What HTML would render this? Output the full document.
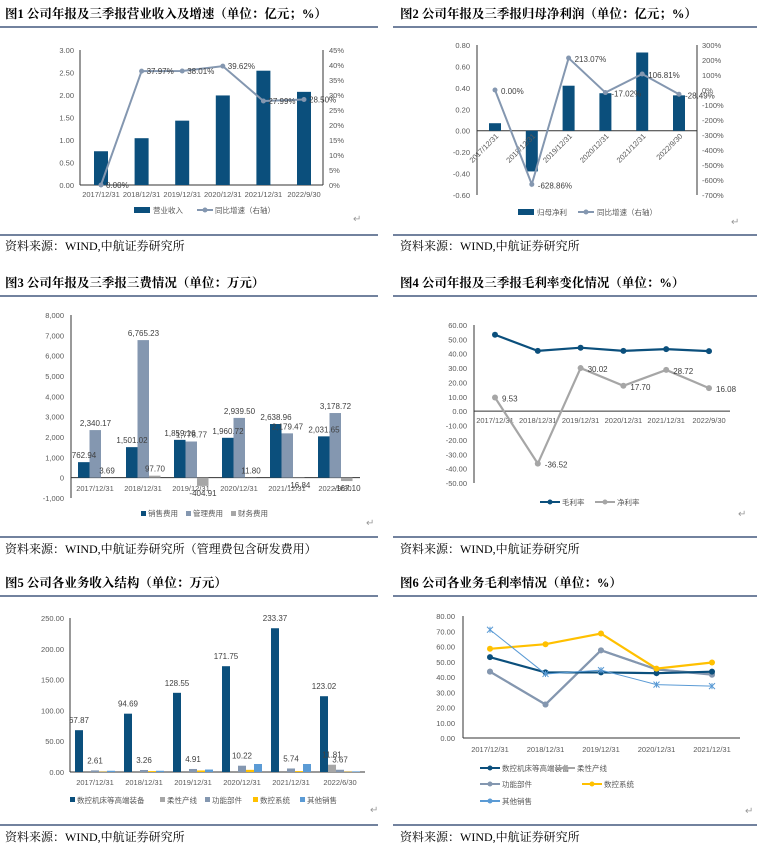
<!DOCTYPE html>
<html><head><meta charset="utf-8"><style>
body{margin:0;background:#fff}
svg{display:block}
.t{font:bold 12.5px "Liberation Serif","Noto Serif CJK SC",serif;fill:#000}
.s{font:12px "Liberation Serif","Noto Serif CJK SC",serif;fill:#000}
.ax{font:7.5px "Liberation Sans","Noto Sans CJK SC",sans-serif;fill:#595959}
.lb{font:8px "Liberation Sans","Noto Sans CJK SC",sans-serif;fill:#404040}
.mk{font:10px "Liberation Sans",sans-serif;fill:#999}
</style></head><body>
<svg id="root" width="757" height="847" viewBox="0 0 757 847" xmlns="http://www.w3.org/2000/svg">
<g>
<text class="t" x="5" y="18">图1  公司年报及三季报营业收入及增速（单位：亿元；%）</text>
<text class="t" x="400" y="18">图2  公司年报及三季报归母净利润（单位：亿元；%）</text>
<text class="t" x="5" y="287">图3  公司年报及三季报三费情况（单位：万元）</text>
<text class="t" x="400" y="287">图4  公司年报及三季报毛利率变化情况（单位：%）</text>
<text class="t" x="5" y="587">图5  公司各业务收入结构（单位：万元）</text>
<text class="t" x="400" y="587">图6  公司各业务毛利率情况（单位：%）</text>
<line x1="0" y1="27" x2="378" y2="27" stroke="#1f3864" stroke-width="1.2"/>
<line x1="393" y1="27" x2="757" y2="27" stroke="#1f3864" stroke-width="1.2"/>
<line x1="0" y1="235" x2="378" y2="235" stroke="#1f3864" stroke-width="1.2"/>
<line x1="393" y1="235" x2="757" y2="235" stroke="#1f3864" stroke-width="1.2"/>
<line x1="0" y1="296" x2="378" y2="296" stroke="#1f3864" stroke-width="1.2"/>
<line x1="393" y1="296" x2="757" y2="296" stroke="#1f3864" stroke-width="1.2"/>
<line x1="0" y1="537" x2="378" y2="537" stroke="#1f3864" stroke-width="1.2"/>
<line x1="393" y1="537" x2="757" y2="537" stroke="#1f3864" stroke-width="1.2"/>
<line x1="0" y1="596" x2="378" y2="596" stroke="#1f3864" stroke-width="1.2"/>
<line x1="393" y1="596" x2="757" y2="596" stroke="#1f3864" stroke-width="1.2"/>
<line x1="0" y1="825" x2="378" y2="825" stroke="#1f3864" stroke-width="1.2"/>
<line x1="393" y1="825" x2="757" y2="825" stroke="#1f3864" stroke-width="1.2"/>
<text class="s" x="5" y="250">资料来源：WIND,中航证券研究所</text>
<text class="s" x="400" y="250">资料来源：WIND,中航证券研究所</text>
<text class="s" x="5" y="553">资料来源：WIND,中航证券研究所（管理费包含研发费用）</text>
<text class="s" x="400" y="553">资料来源：WIND,中航证券研究所</text>
<text class="s" x="5" y="841">资料来源：WIND,中航证券研究所</text>
<text class="s" x="400" y="841">资料来源：WIND,中航证券研究所</text>
</g>
</svg>
<script>
// ---------- data ----------
const c1Cats=["2017/12/31","2018/12/31","2019/12/31","2020/12/31","2021/12/31","2022/9/30"];
const c1Rev=[0.75,1.04,1.43,1.99,2.54,2.07];
const c1Growth=[0,37.97,38.01,39.62,27.99,28.50];
const c1LeftTicks=["0.00","0.50","1.00","1.50","2.00","2.50","3.00"];
const c1RightTicks=["0%","5%","10%","15%","20%","25%","30%","35%","40%","45%"];

const c2Cats=["2017/12/31","2018/12/31","2019/12/31","2020/12/31","2021/12/31","2022/9/30"];
const c2Profit=[0.07,-0.38,0.42,0.35,0.73,0.33];
const c2Growth=[0,-628.86,213.07,-17.02,106.81,-28.49];
const c2LeftTicks=["-0.60","-0.40","-0.20","0.00","0.20","0.40","0.60","0.80"];
const c2RightTicks=["-700%","-600%","-500%","-400%","-300%","-200%","-100%","0%","100%","200%","300%"];

const c3Cats=["2017/12/31","2018/12/31","2019/12/31","2020/12/31","2021/12/31","2022/9/30"];
const c3Sales=[762.94,1501.02,1859.16,1960.72,2638.96,2031.65];
const c3Mgmt=[2340.17,6765.23,1778.77,2939.50,2179.47,3178.72];
const c3Fin=[3.69,97.70,-404.91,11.80,-16.84,-167.10];
const c3Ticks=["-1,000","0","1,000","2,000","3,000","4,000","5,000","6,000","7,000","8,000"];

const c4Cats=["2017/12/31","2018/12/31","2019/12/31","2020/12/31","2021/12/31","2022/9/30"];
const c4Gross=[53.2,42.0,44.2,42.0,43.2,41.8];
const c4Net=[9.53,-36.52,30.02,17.70,28.72,16.08];
const c4Ticks=["-50.00","-40.00","-30.00","-20.00","-10.00","0.00","10.00","20.00","30.00","40.00","50.00","60.00"];

const c5Cats=["2017/12/31","2018/12/31","2019/12/31","2020/12/31","2021/12/31","2022/6/30"];
const c5Main=[67.87,94.69,128.55,171.75,233.37,123.02];
const c5Flex=[0,0,0,0,0,11.81];
const c5Func=[2.61,3.26,4.91,10.22,5.74,3.67];
const c5Cnc=[0.5,1.5,2.5,3.5,1.5,0.5];
const c5Other=[2,2,4,13,13,1];
const c5Ticks=["0.00","50.00","100.00","150.00","200.00","250.00"];

const c6Cats=["2017/12/31","2018/12/31","2019/12/31","2020/12/31","2021/12/31"];
const c6Main=[53,43,43,42.5,43.5];
const c6Flex=[43.5,22,57.5,45,42];
const c6Func=[43.5,22,57.5,45,41.5];
const c6Cnc=[58.5,61.5,68.5,45.5,49.5];
const c6Other=[71,42,44.5,35,34];
const c6Ticks=["0.00","10.00","20.00","30.00","40.00","50.00","60.00","70.00","80.00"];

// ---------- helpers ----------
const NS="http://www.w3.org/2000/svg";
const root=document.getElementById('root');
function mk(tag,attrs,parent,txt){const e=document.createElementNS(NS,tag);for(const k in attrs)e.setAttribute(k,attrs[k]);if(txt!==undefined)e.textContent=txt;(parent||root).appendChild(e);return e;}
function lin(d0,d1,r0,r1){return v=>r0+(v-d0)*(r1-r0)/(d1-d0);}
function fmt(v){return v.toLocaleString('en-US',{minimumFractionDigits:2,maximumFractionDigits:2});}
const NAVY="#0b4f7c",GRAY="#8497b0",LG="#a6a6a6";

// ---------- chart 1 ----------
(function(){
 const g=mk('g',{});
 
 
 const x=lin(0,5,101,304), y=lin(0,3,185,50), yr=lin(0,45,185,50);
 mk('line',{x1:80,y1:50,x2:80,y2:185,stroke:'#333'},g);
 mk('line',{x1:323,y1:50,x2:323,y2:185,stroke:'#333'},g);
 mk('line',{x1:80,y1:185,x2:323,y2:185,stroke:'#333'},g);
 c1LeftTicks.forEach((t,i)=>{const v=parseFloat(t);const e=mk('text',{class:'ax',x:74,y:y(v)+3,'text-anchor':'end'},g,t);});
 c1RightTicks.forEach((t,i)=>{const v=parseFloat(t);const e=mk('text',{class:'ax',x:329,y:yr(v)+3},g,t);});
 c1Cats.forEach((c,i)=>{const e=mk('text',{class:'ax',x:x(i),y:197,'text-anchor':'middle'},g,c);});
 c1Rev.forEach((v,i)=>{const e=mk('rect',{x:x(i)-7,y:y(v),width:14,height:y(0)-y(v),fill:NAVY},g);});
 const pts=c1Growth.map((v,i)=>x(i)+','+yr(v)).join(' ');
 const pl=mk('polyline',{points:pts,fill:'none',stroke:GRAY,'stroke-width':2},g);
 
 c1Growth.forEach((v,i)=>{const e=mk('circle',{cx:x(i),cy:yr(v),r:2.5,fill:GRAY},g);
  const l=mk('text',{class:'lb',x:x(i)+5,y:yr(v)+3},g,v.toFixed(2)+'%');});
 const lg=mk('g',{},g);
 mk('rect',{x:134,y:207,width:16,height:6,fill:NAVY},lg);mk('text',{class:'ax',x:153,y:213},lg,'营业收入');
 mk('line',{x1:197,y1:210,x2:213,y2:210,stroke:GRAY,'stroke-width':2},lg);mk('circle',{cx:205,cy:210,r:2.5,fill:GRAY},lg);
 mk('text',{class:'ax',x:215,y:213},lg,'同比增速（右轴）');
 mk('text',{class:'mk',x:353,y:222},g,'↵');
})();

// ---------- chart 2 ----------
(function(){
 const g=mk('g',{});
 
 
 const x=lin(0,5,495,679), y=lin(-0.6,0.8,195,45), yr=lin(-700,300,195,45);
 mk('line',{x1:477,y1:45,x2:477,y2:195,stroke:'#333'},g);
 mk('line',{x1:697,y1:45,x2:697,y2:195,stroke:'#333'},g);
 mk('line',{x1:477,y1:y(0),x2:697,y2:y(0),stroke:'#333'},g);
 c2LeftTicks.forEach(t=>{const e=mk('text',{class:'ax',x:470,y:y(parseFloat(t))+3,'text-anchor':'end'},g,t);});
 c2RightTicks.forEach(t=>{const e=mk('text',{class:'ax',x:702,y:yr(parseFloat(t))+3},g,t);});
 c2Profit.forEach((v,i)=>{const e=mk('rect',{x:x(i)-6,y:Math.min(y(v),y(0)),width:12,height:Math.abs(y(0)-y(v)),fill:NAVY},g);});
 c2Cats.forEach((c,i)=>{const e=mk('text',{class:'ax',x:x(i)+4,y:y(0)+6,'text-anchor':'end',transform:`rotate(-45 ${x(i)+4} ${y(0)+6})`},g,c);});
 const pl=mk('polyline',{points:c2Growth.map((v,i)=>x(i)+','+yr(v)).join(' '),fill:'none',stroke:GRAY,'stroke-width':2},g);
 
 c2Growth.forEach((v,i)=>{const e=mk('circle',{cx:x(i),cy:yr(v),r:2.5,fill:GRAY},g);
  const l=mk('text',{class:'lb',x:x(i)+6,y:yr(v)+4},g,v.toFixed(2)+'%');});
 const lg=mk('g',{},g);
 mk('rect',{x:518,y:209,width:16,height:6,fill:NAVY},lg);mk('text',{class:'ax',x:537,y:215},lg,'归母净利');
 mk('line',{x1:578,y1:212,x2:594,y2:212,stroke:GRAY,'stroke-width':2},lg);mk('circle',{cx:586,cy:212,r:2.5,fill:GRAY},lg);
 mk('text',{class:'ax',x:597,y:215},lg,'同比增速（右轴）');
 mk('text',{class:'mk',x:731,y:225},g,'↵');
})();

// ---------- chart 3 ----------
(function(){
 const g=mk('g',{});
 
 
 const y=lin(-1000,8000,498,315); const gx=i=>78+i*48;
 mk('line',{x1:71,y1:315,x2:71,y2:498,stroke:'#333'},g);
 mk('line',{x1:71,y1:y(0),x2:360,y2:y(0),stroke:'#333'},g);
 c3Ticks.forEach(t=>{const e=mk('text',{class:'ax',x:64,y:y(parseFloat(t.replace(/,/g,'')))+3,'text-anchor':'end'},g,t);});
 c3Cats.forEach((c,i)=>{const e=mk('text',{class:'ax',x:gx(i)+17,y:491,'text-anchor':'middle'},g,c);});
 const series=[[c3Sales,NAVY,'sales-bar'],[c3Mgmt,GRAY,'mgmt-bar'],[c3Fin,LG,'finance-bar']];
 series.forEach(([arr,col,nm],s)=>arr.forEach((v,i)=>{
  const bx=gx(i)+s*11.5;
  const e=mk('rect',{x:bx,y:Math.min(y(v),y(0)),width:11.5,height:Math.abs(y(0)-y(v)),fill:col},g);
  
 }));
 series.forEach(([arr,col,nm],s)=>arr.forEach((v,i)=>{
  const bx=gx(i)+s*11.5;
  const ly=v>=0?y(v)-4:y(v)+10;
  const l=mk('text',{class:'lb',x:bx+6,y:ly,'text-anchor':'middle'},g,fmt(v));
  
 }));
 const lg=mk('g',{},g);
 mk('rect',{x:141,y:511,width:5,height:5,fill:NAVY},lg);mk('text',{class:'ax',x:148,y:516},lg,'销售费用');
 mk('rect',{x:186,y:511,width:5,height:5,fill:GRAY},lg);mk('text',{class:'ax',x:193,y:516},lg,'管理费用');
 mk('rect',{x:231,y:511,width:5,height:5,fill:LG},lg);mk('text',{class:'ax',x:238,y:516},lg,'财务费用');
 mk('text',{class:'mk',x:366,y:526},g,'↵');
})();

// ---------- chart 4 ----------
(function(){
 const g=mk('g',{});
 
 
 const x=lin(0,5,495,709), y=lin(-50,60,483,325);
 mk('line',{x1:474,y1:325,x2:474,y2:483,stroke:'#333'},g);
 mk('line',{x1:474,y1:y(0),x2:730,y2:y(0),stroke:'#333'},g);
 c4Ticks.forEach(t=>{const e=mk('text',{class:'ax',x:467,y:y(parseFloat(t))+3,'text-anchor':'end'},g,t);});
 c4Cats.forEach((c,i)=>{const e=mk('text',{class:'ax',x:x(i),y:y(0)+12,'text-anchor':'middle'},g,c);});
 [[c4Gross,NAVY,'gross-margin',false],[c4Net,LG,'net-margin',true]].forEach(([arr,col,nm,lbl])=>{
  const pl=mk('polyline',{points:arr.map((v,i)=>x(i)+','+y(v)).join(' '),fill:'none',stroke:col,'stroke-width':2.2},g);
  
  arr.forEach((v,i)=>{const e=mk('circle',{cx:x(i),cy:y(v),r:3,fill:col},g);
   if(lbl){const l=mk('text',{class:'lb',x:x(i)+7,y:y(v)+4},g,v.toFixed(2));}});
 });
 const lg=mk('g',{},g);
 mk('line',{x1:540,y1:502,x2:560,y2:502,stroke:NAVY,'stroke-width':2},lg);mk('circle',{cx:550,cy:502,r:2.5,fill:NAVY},lg);mk('text',{class:'ax',x:562,y:505},lg,'毛利率');
 mk('line',{x1:595,y1:502,x2:615,y2:502,stroke:LG,'stroke-width':2},lg);mk('circle',{cx:605,cy:502,r:2.5,fill:LG},lg);mk('text',{class:'ax',x:617,y:505},lg,'净利率');
 mk('text',{class:'mk',x:738,y:517},g,'↵');
})();

// ---------- chart 5 ----------
(function(){
 const g=mk('g',{});
 
 
 const y=lin(0,250,772,618); const gx=i=>75+i*49;
 mk('line',{x1:70,y1:618,x2:70,y2:772,stroke:'#333'},g);
 mk('line',{x1:70,y1:772,x2:365,y2:772,stroke:'#333'},g);
 c5Ticks.forEach(t=>{const e=mk('text',{class:'ax',x:64,y:y(parseFloat(t))+3,'text-anchor':'end'},g,t);});
 c5Cats.forEach((c,i)=>{const e=mk('text',{class:'ax',x:gx(i)+20,y:785,'text-anchor':'middle'},g,c);});
 const series=[[c5Main,NAVY,'main-equipment-bar'],[c5Flex,LG,'flexible-line-bar'],[c5Func,GRAY,'functional-parts-bar'],[c5Cnc,'#ffc000','cnc-system-bar'],[c5Other,'#5b9bd5','other-sales-bar']];
 series.forEach(([arr,col,nm],s)=>arr.forEach((v,i)=>{
  const bx=gx(i)+s*8;
  const e=mk('rect',{x:bx,y:y(v),width:8,height:y(0)-y(v),fill:col},g);
  
 }));
 series.forEach(([arr,col,nm],s)=>arr.forEach((v,i)=>{
  const bx=gx(i)+s*8;
  if(s===0||s===2||(s===1&&v>0)){const l=mk('text',{class:'lb',x:bx+4,y:y(v)-7,'text-anchor':'middle'},g,v.toFixed(2));}
 }));
 const lg=mk('g',{},g);
 const items=[[NAVY,'数控机床等高端装备',70],[LG,'柔性产线',160],[GRAY,'功能部件',205],['#ffc000','数控系统',253],['#5b9bd5','其他销售',300]];
 items.forEach(([c,t,lx])=>{mk('rect',{x:lx,y:797,width:5,height:5,fill:c},lg);mk('text',{class:'ax',x:lx+7,y:803},lg,t);});
 mk('text',{class:'mk',x:370,y:813},g,'↵');
})();

// ---------- chart 6 ----------
(function(){
 const g=mk('g',{});
 
 
 const x=lin(0,4,490,712), y=lin(0,80,738,616);
 mk('line',{x1:463,y1:616,x2:463,y2:738,stroke:'#333'},g);
 mk('line',{x1:463,y1:738,x2:740,y2:738,stroke:'#333'},g);
 c6Ticks.forEach(t=>{const e=mk('text',{class:'ax',x:455,y:y(parseFloat(t))+3,'text-anchor':'end'},g,t);});
 c6Cats.forEach((c,i)=>{const e=mk('text',{class:'ax',x:x(i),y:752,'text-anchor':'middle'},g,c);});
 const series=[[c6Flex,'#a6a6a6','flexible-line',false,2],[c6Func,GRAY,'functional-parts',false,2.2],[c6Main,NAVY,'main-equipment',false,2.2],[c6Cnc,'#ffc000','cnc-system',false,2.2],[c6Other,'#5b9bd5','other-sales',true,1]];
 series.forEach(([arr,col,nm,cross,w])=>{
  const pl=mk('polyline',{points:arr.map((v,i)=>x(i)+','+y(v)).join(' '),fill:'none',stroke:col,'stroke-width':w},g);
  
  arr.forEach((v,i)=>{let e;
   if(cross){e=mk('path',{d:`M${x(i)-3},${y(v)-3}L${x(i)+3},${y(v)+3}M${x(i)-3},${y(v)+3}L${x(i)+3},${y(v)-3}M${x(i)},${y(v)-3}L${x(i)},${y(v)+3}`,stroke:col,'stroke-width':1},g);}
   else{e=mk('circle',{cx:x(i),cy:y(v),r:3,fill:col},g);}
   });
 });
 const lg=mk('g',{},g);
 const items=[[NAVY,'数控机床等高端装备',490,768],['#a6a6a6','柔性产线',565,768],[GRAY,'功能部件',490,784],['#ffc000','数控系统',592,784],['#5b9bd5','其他销售',490,801]];
 items.forEach(([c,t,lx,ly])=>{mk('line',{x1:lx-10,y1:ly,x2:lx+10,y2:ly,stroke:c,'stroke-width':2},lg);mk('circle',{cx:lx,cy:ly,r:2.5,fill:c},lg);mk('text',{class:'ax',x:lx+12,y:ly+3},lg,t);});
 mk('text',{class:'mk',x:745,y:814},g,'↵');
})();
</script>
</body></html>
